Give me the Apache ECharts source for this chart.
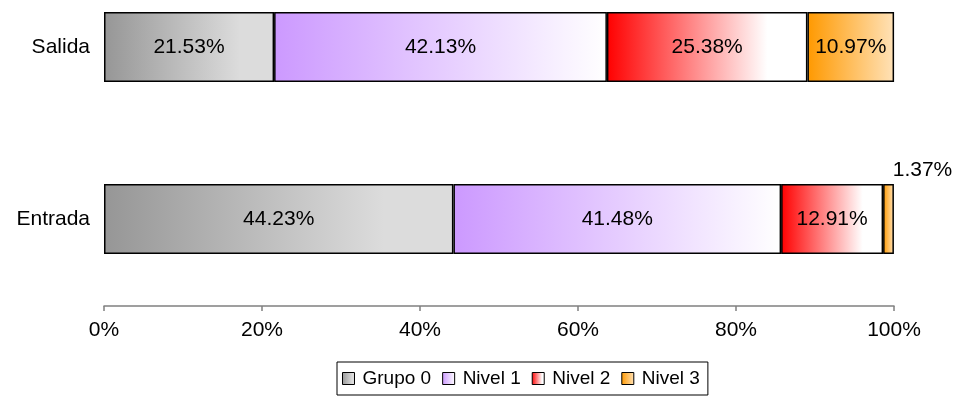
<!DOCTYPE html>
<html><head><meta charset="utf-8">
<script src="https://cdn.jsdelivr.net/npm/echarts@6/dist/echarts.min.js"></script>
<style>html,body{margin:0;padding:0;background:#fff}#c{width:955px;height:416px}</style>
</head><body><div id="c"></div>
<script>
const categories = ['Salida', 'Entrada'];
const seriesNames = ['Grupo 0', 'Nivel 1', 'Nivel 2', 'Nivel 3'];
const grupo0 = [21.53, 44.23];
const nivel1 = [42.13, 41.48];
const nivel2 = [25.38, 12.91];
const nivel3 = [10.97, 1.37];
const xTicks = [0, 20, 40, 60, 80, 100];

const FONT = 'Liberation Sans, Arial, sans-serif';
function grad(c0, c1, stop) {
  return new echarts.graphic.LinearGradient(0, 0, 1, 0, [
    {offset: 0, color: c0}, {offset: stop, color: c1}, {offset: 1, color: c1}
  ]);
}
const fills = [
  grad('#969696', '#dcdcdc', 0.8),
  grad('#cc99ff', '#ffffff', 1.0),
  grad('#ff0000', '#ffffff', 0.8),
  grad('#ff9900', '#ffe2b8', 1.0)
];
const values = [grupo0, nivel1, nivel2, nivel3];

const series = values.map((vals, i) => ({
  name: seriesNames[i],
  type: 'bar',
  stack: 'total',
  barWidth: 70,
  itemStyle: {color: fills[i], borderColor: '#000', borderWidth: 1.5},
  label: {
    show: true, position: 'inside', color: '#000', fontSize: 21, fontFamily: FONT,
    formatter: p => p.value.toFixed(2) + '%'
  },
  data: vals.map((v, j) => {
    if (i === 3 && j === 1) {
      return {value: v, label: {position: 'top', offset: [34, 2]}};
    }
    return v;
  })
}));

const chart = echarts.init(document.getElementById('c'));
chart.setOption({
  animation: false,
  textStyle: {fontFamily: FONT},
  grid: {left: 104, right: 61, top: 47, bottom: 197, containLabel: false},
  xAxis: {
    type: 'value', min: xTicks[0], max: xTicks[xTicks.length - 1], interval: 20,
    offset: 87,
    axisLine: {show: true, lineStyle: {color: '#808080', width: 1.5}},
    axisTick: {show: true, length: 5, lineStyle: {color: '#808080', width: 1.5}},
    splitLine: {show: false},
    axisLabel: {color: '#000', fontSize: 21, fontFamily: FONT, margin: 14, formatter: '{value}%'}
  },
  yAxis: {
    type: 'category', data: categories, inverse: true, boundaryGap: false,
    axisLine: {show: false}, axisTick: {show: false},
    axisLabel: {color: '#000', fontSize: 21, fontFamily: FONT, margin: 14}
  },
  legend: {
    data: seriesNames,
    top: 362, left: 337,
    itemWidth: 12, itemHeight: 12, itemGap: 11,
    icon: 'rect',
    itemStyle: {borderColor: '#000', borderWidth: 1},
    textStyle: {color: '#000', fontSize: 19, fontFamily: FONT, padding: [0, 0, 0, 3]},
    borderColor: '#000', borderWidth: 1, padding: [7, 8, 7, 5]
  },
  series
});
</script></body></html>
